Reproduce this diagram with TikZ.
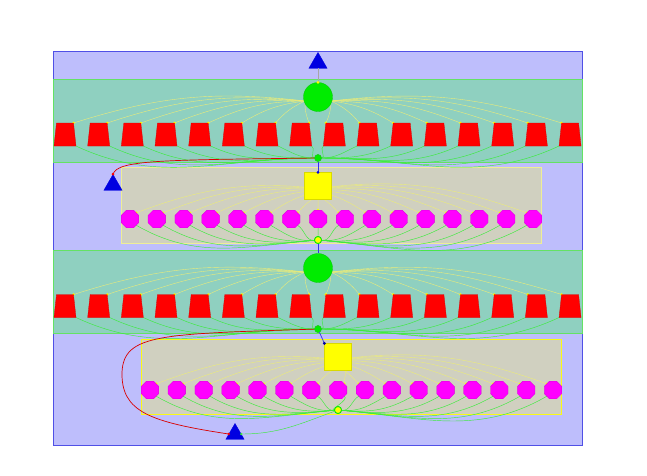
\documentclass[tikz,border=0pt]{standalone}
\usetikzlibrary{shapes.geometric,calc}
\definecolor{outerbg}{RGB}{190,190,252}
\definecolor{outerln}{RGB}{80,80,230}
\definecolor{bandbg}{RGB}{143,208,192}
\definecolor{bandln}{RGB}{100,226,100}
\definecolor{boxbg}{RGB}{208,208,192}
\definecolor{boxlnA}{RGB}{238,238,150}
\definecolor{boxlnB}{RGB}{250,250,20}
\definecolor{trapred}{RGB}{255,0,0}
\definecolor{octmag}{RGB}{255,0,255}
\definecolor{ballgr}{RGB}{0,236,0}
\definecolor{triblue}{RGB}{0,0,225}
\definecolor{yedge}{RGB}{236,236,120}
\definecolor{gedge}{RGB}{60,235,60}
\definecolor{dotyel}{RGB}{255,255,0}
\tikzset{
  trapbox/.style={rectangle, minimum width=22pt, minimum height=23pt, inner sep=0pt},
  trapfill/.style={fill=trapred, draw=trapred!85!black, line width=0.3pt},
  octa/.style={regular polygon, regular polygon sides=8, minimum size=19pt,
    inner sep=0pt, fill=octmag, draw=octmag!85!black, line width=0.3pt},
  ball/.style={circle, minimum size=29pt, inner sep=0pt, fill=ballgr, draw=ballgr!85!black, line width=0.3pt},
  sq/.style={rectangle, minimum size=27pt, inner sep=0pt, fill=dotyel, draw=dotyel!85!black, line width=0.3pt},
  tri/.style={regular polygon, regular polygon sides=3, minimum size=21pt,
    inner sep=0pt, fill=triblue, draw=triblue},
  junc/.style={circle, minimum size=7pt, inner sep=0pt, fill=ballgr, draw=gedge!80!black, line width=0.3pt},
  juncy/.style={circle, minimum size=7pt, inner sep=0pt, fill=dotyel, draw=ballgr, line width=0.8pt},
  yl/.style={draw=yedge, line width=0.4pt},
  gl/.style={draw=gedge, line width=0.45pt},
  bl/.style={draw=triblue!80!white, line width=0.7pt},
  rl/.style={draw=red!85!black, line width=0.7pt},
  ydot/.style={fill=dotyel},
}
\begin{document}
\begin{tikzpicture}[x=1pt,y=-1pt]
\useasboundingbox (0,0) rectangle (647,475);
% clusters
\draw[fill=outerbg, draw=outerln, line width=0.6pt] (53,51) rectangle (582,445);
\draw[fill=bandbg, draw=bandln, line width=0.8pt] (53,79) rectangle (582,162);
\draw[fill=boxbg, draw=boxlnA, line width=0.6pt] (121,167) rectangle (541,243);
\draw[fill=bandbg, draw=bandln, line width=0.8pt] (53,250) rectangle (582,333);
\draw[fill=boxbg, draw=boxlnB, line width=0.8pt] (141,339) rectangle (561,414);

% coordinates of the row members (centres)
\foreach \i in {0,...,15}{
  \pgfmathsetmacro\xa{65+33.67*\i}
  \pgfmathsetmacro\xb{130+26.87*\i}
  \pgfmathsetmacro\xc{150+26.87*\i}
  \coordinate (ca\i) at (\xa,134.5);
  \coordinate (cb\i) at (\xa,306);
  \coordinate (co\i) at (\xb,219);
  \coordinate (cp\i) at (\xc,390);
}
\node[junc] (J1) at (318,158) {};
\node[juncy] (K1) at (318,240) {};
\node[junc] (J2) at (318,329) {};
\node[juncy] (K2) at (338,410) {};
\coordinate (C1) at (318,97);
\coordinate (C2) at (318,268);
\coordinate (S1) at (318,186);
\coordinate (S2) at (338,357);

% edges
\foreach \i in {0,...,7}{
  \draw[yl] ($(C1)+(-13,4)$) to[bend right=12] ($(ca\i)+(8.5,-11.5)$);
  \fill[ydot] ($(ca\i)+(8.5,-11.5)$) circle (1.4);
  \draw[gl] ($(ca\i)+(11,11.5)$) to[out=-25,in=180] (J1);
  \draw[yl] ($(C2)+(-13,4)$) to[bend right=12] ($(cb\i)+(8.5,-11.5)$);
  \fill[ydot] ($(cb\i)+(8.5,-11.5)$) circle (1.4);
  \draw[gl] ($(cb\i)+(11,11.5)$) to[out=-25,in=180] (J2);
}
\foreach \i in {8,...,15}{
  \draw[yl] ($(C1)+(13,4)$) to[bend left=12] ($(ca\i)+(-8.5,-11.5)$);
  \fill[ydot] ($(ca\i)+(-8.5,-11.5)$) circle (1.4);
  \draw[gl] ($(ca\i)+(-11,11.5)$) to[out=205,in=0] (J1);
  \draw[yl] ($(C2)+(13,4)$) to[bend left=12] ($(cb\i)+(-8.5,-11.5)$);
  \fill[ydot] ($(cb\i)+(-8.5,-11.5)$) circle (1.4);
  \draw[gl] ($(cb\i)+(-11,11.5)$) to[out=205,in=0] (J2);
}
\foreach \i in {0,...,6}{
  \draw[yl] ($(S1)+(13,4)$) to[bend right=14] ($(co\i)+(6.2,-6.2)$);
  \fill[ydot] ($(co\i)+(6.2,-6.2)$) circle (1.4);
  \draw[gl] ($(co\i)+(6.2,6.2)$) to[out=-30,in=185] (K1);
}
\foreach \i in {0,...,7}{
  \draw[yl] ($(S2)+(13,4)$) to[bend right=14] ($(cp\i)+(6.2,-6.2)$);
  \fill[ydot] ($(cp\i)+(6.2,-6.2)$) circle (1.4);
  \draw[gl] ($(cp\i)+(6.2,6.2)$) to[out=-30,in=185] (K2);
}
\draw[yl] (S1) -- ($(co7)+(0,-9)$); \fill[ydot] ($(co7)+(0,-9)$) circle (1.4);
\draw[gl] (co7) -- (K1);
\foreach \i in {8,...,15}{
  \draw[yl] ($(S1)+(-13,4)$) to[bend left=14] ($(co\i)+(-6.2,-6.2)$);
  \fill[ydot] ($(co\i)+(-6.2,-6.2)$) circle (1.4);
  \draw[gl] ($(co\i)+(-6.2,6.2)$) to[out=210,in=-5] (K1);
}
\foreach \i in {8,...,15}{
  \draw[yl] ($(S2)+(-13,4)$) to[bend left=14] ($(cp\i)+(-6.2,-6.2)$);
  \fill[ydot] ($(cp\i)+(-6.2,-6.2)$) circle (1.4);
  \draw[gl] ($(cp\i)+(-6.2,6.2)$) to[out=210,in=-5] (K2);
}

% nodes on top
\foreach \i in {0,...,15}{
  \node[trapbox] (a\i) at (ca\i) {};
  \node[trapbox] (b\i) at (cb\i) {};
  \draw[trapfill] ($(ca\i)+(-8.5,-11.5)$) -- ++(17,0) -- ++(2.5,23) -- ++(-22,0) -- cycle;
  \draw[trapfill] ($(cb\i)+(-8.5,-11.5)$) -- ++(17,0) -- ++(2.5,23) -- ++(-22,0) -- cycle;
  \node[octa] (o\i) at (co\i) {};
  \node[octa] (p\i) at (cp\i) {};
}
\node[tri] (T0) at (318,63) {};
\node[ball] (B1) at (C1) {};
\node[sq] (Q1) at (S1) {};
\node[tri] (L1) at (113,185) {};
\node[ball] (B2) at (C2) {};
\node[sq] (Q2) at (S2) {};
\node[tri] (L2) at (235,434) {};
\node[junc] at (J1) {};
\node[junc] at (J2) {};
\node[juncy] at (K1) {};
\node[juncy] at (K2) {};

% links
\draw[draw=gray!70, line width=0.5pt] (T0.south) -- (B1.north);
\fill[ydot] (B1.north) circle (1.6);
\draw[bl] (J1) -- (Q1.north);
\fill[triblue] (Q1.north) circle (1.4);
\draw[bl] (K1) -- (B2.north);
\draw[bl] (J2) -- (Q2.north west);
\fill[triblue!70!black] (Q2.north west) circle (1.6);

\draw[rl] (J1) .. controls (160,160) and (118,160) .. (L1.north);
\fill[red] (L1.north) circle (1.4);
\draw[rl] (J2) .. controls (160,334) and (124,334) .. (122,372)
  .. controls (121,412) and (150,422) .. (L2.west);
\fill[red] (L2.west) circle (1.4);
\draw[gl] (L2.east) to[out=0,in=200] (K2);
\fill[gedge] (L2.east) circle (1.3);
\end{tikzpicture}
\end{document}
